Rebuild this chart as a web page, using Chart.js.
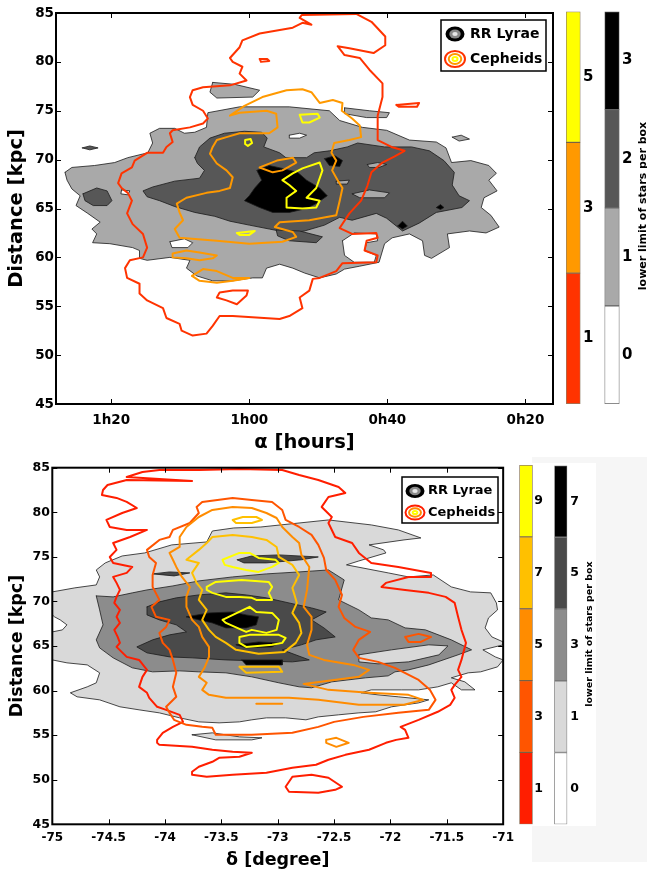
<!DOCTYPE html>
<html>
<head>
<meta charset="utf-8">
<title>RR Lyrae and Cepheids distance contours</title>
<script src="https://cdn.jsdelivr.net/npm/chart.js@4/dist/chart.umd.min.js"></script>
<style>
  html, body { margin:0; padding:0; background:#ffffff; }
  body { position:relative; width:647px; height:869px; overflow:hidden; }
  canvas { position:absolute; }
  .panel { position:absolute; }
</style>
</head>
<body>
<div class="panel" style="left:532px;top:457px;width:115px;height:405px;background:#f6f6f6;"></div>
<div class="panel" style="left:532px;top:463px;width:64px;height:363px;background:#ffffff;"></div>
<canvas id="cTop" width="560" height="458" style="left:0px;top:0px;"></canvas>
<canvas id="cTopCep" width="44" height="420" style="left:560px;top:0px;"></canvas>
<canvas id="cTopRR" width="47" height="420" style="left:600px;top:0px;"></canvas>
<canvas id="cBot" width="520" height="420" style="left:0px;top:455px;"></canvas>
<canvas id="cBotCep" width="40" height="420" style="left:512px;top:455px;"></canvas>
<canvas id="cBotRR" width="50" height="420" style="left:550px;top:455px;"></canvas>
<script>
// ---------------- axis ticks and labels ----------------
const raTicks = [20, 40, 60, 80];                 // minutes of right ascension
const raTickLabels = ['0h20', '0h40', '1h00', '1h20'];
const distTicks = [45, 50, 55, 60, 65, 70, 75, 80, 85];
const decTicks = [-75, -74.5, -74, -73.5, -73, -72.5, -72, -71.5, -71];
const legendLabels = ['RR Lyrae', 'Cepheids'];
const colorbarTitle = 'lower limit of stars per box';

// colour-bar level labels (bottom to top)
const topCepLevels = ['1', '3', '5'];
const topRRLevels = ['0', '1', '2', '3'];
const botCepLevels = ['1', '3', '5', '7', '9'];
const botRRLevels = ['0', '1', '3', '5', '7'];

// ---------------- TOP panel contours: [alpha (min), distance (kpc)] ----------------
const topRRLevel1 = [
 [[86.7,68.7],[85.7,69.2],[82.4,69.4],[79.5,69.7],[77.6,70.2],[74.7,70.7],[74.0,71.7],[74.4,72.7],[73.0,73.2],[70.8,73.2],[69.4,72.7],[67.9,72.8],[66.2,73.3],[66.0,74.8],[61.4,75.4],[54.2,75.4],[48.4,75.0],[46.9,74.0],[43.6,73.3],[40.1,73.0],[36.8,72.0],[32.9,71.8],[31.5,71.2],[30.7,69.7],[27.9,69.9],[25.3,69.4],[24.2,68.6],[25.3,67.9],[24.1,66.8],[26.0,66.1],[26.4,65.1],[25.0,64.3],[23.8,63.1],[25.7,62.5],[28.1,62.7],[31.3,62.4],[31.0,61.0],[33.6,59.9],[34.6,60.2],[34.9,61.7],[36.8,62.4],[39.3,62.0],[40.4,61.4],[41.2,59.5],[44.0,59.1],[46.2,58.8],[47.4,58.3],[49.8,57.9],[52.0,58.4],[53.7,58.9],[55.6,59.3],[57.5,58.9],[58.1,57.9],[59.5,57.9],[62.4,57.6],[65.3,57.6],[67.6,58.1],[69.1,58.9],[68.6,59.7],[71.5,60.0],[74.8,59.7],[75.9,59.9],[75.9,60.7],[76.9,61.0],[80.2,61.4],[82.7,61.5],[82.1,62.4],[82.8,62.9],[81.6,63.6],[83.4,64.5],[85.1,65.3],[84.5,66.3],[85.7,67.0],[86.4,67.9]],
 [[65.3,77.9],[62.1,77.7],[58.5,77.1],[59.5,76.4],[64.7,76.3],[65.7,76.9]],
 [[46.2,75.3],[42.6,75.0],[39.7,74.8],[40.1,74.3],[43.0,74.3],[46.2,74.7]],
 [[30.6,72.3],[29.3,72.5],[28.1,72.1],[29.6,71.9]]
];
const topRRLevel0 = [
 [[71.5,61.6],[69.4,61.9],[68.2,61.5],[68.9,61.0],[71.2,61.0]],
 [[54.2,72.5],[52.7,72.7],[51.7,72.5],[52.7,72.2],[54.2,72.2]],
 [[46.5,61.7],[44.8,62.5],[41.6,62.4],[41.4,61.7],[43.0,61.5],[43.3,60.7],[41.6,60.2],[41.9,59.5],[44.8,59.5],[46.2,60.2]],
 [[78.5,66.9],[77.3,66.8],[77.6,66.4],[78.6,66.5]]
];
const topRRLevel2 = [
 [[67.9,70.2],[67.2,71.3],[65.7,72.2],[63.6,72.7],[60.7,72.9],[58.2,72.8],[57.4,72.2],[57.9,71.3],[55.6,70.7],[54.7,70.2],[51.7,70.2],[50.6,70.7],[48.4,70.9],[45.8,71.3],[44.3,71.7],[40.4,71.3],[36.5,71.3],[33.9,70.9],[31.8,69.9],[30.3,68.7],[30.6,67.4],[29.6,66.3],[28.1,65.8],[29.2,65.1],[32.9,64.6],[35.4,63.5],[37.8,62.7],[40.1,64.0],[41.6,64.5],[45.1,63.8],[46.9,64.1],[49.1,63.3],[52.0,62.7],[54.2,62.5],[57.1,62.9],[60.0,63.3],[62.8,63.7],[65.0,64.2],[67.9,64.6],[70.8,65.2],[73.0,65.8],[74.8,66.2],[75.4,66.8],[74.0,67.2],[70.8,67.8],[67.2,68.1],[66.5,68.9],[67.5,69.6]],
 [[56.1,62.8],[52.7,62.7],[49.4,62.1],[50.3,61.5],[54.2,61.7],[55.9,62.2]],
 [[84.1,66.5],[82.1,67.1],[80.6,66.8],[79.9,65.8],[80.6,65.3],[82.6,65.3],[83.8,65.8]],
 [[84.2,71.2],[83.1,71.4],[81.9,71.2],[83.1,71.0]]
];
const topRRLevel1Islands = [
 [[45.1,66.5],[42.6,66.9],[39.7,66.6],[40.4,66.1],[44.0,66.1]],
 [[42.9,69.5],[41.4,69.7],[40.1,69.5],[41.2,69.2],[42.6,69.2]],
 [[47.4,67.8],[45.5,67.9],[45.8,67.5],[47.3,67.5]]
];
const topRRLevel3 = [
 [[58.9,68.9],[57.1,69.4],[55.2,69.1],[53.0,68.7],[51.7,67.9],[49.8,67.1],[48.7,66.3],[50.3,65.5],[51.7,65.0],[54.2,64.6],[56.6,64.6],[58.5,65.1],[60.7,65.8],[60.0,66.3],[59.2,67.1],[58.2,67.9]],
 [[49.1,70.1],[47.6,70.4],[46.5,69.9],[46.9,69.3],[48.4,69.4]],
 [[38.5,63.2],[37.8,63.7],[37.1,63.2],[37.8,62.9]],
 [[32.9,65.1],[32.3,65.4],[31.8,65.1],[32.3,64.9]]
];
const topCepLevel1 = [
 [[77.0,65.8],[77.6,66.6],[78.5,67.1],[79.0,67.6],[78.5,68.6],[77.0,69.2],[76.6,69.9],[74.8,70.7],[72.5,70.7],[72.0,71.3],[71.1,71.8],[71.5,72.7],[71.1,73.0],[68.6,73.3],[66.7,73.7],[66.0,74.2],[66.7,75.0],[68.2,75.6],[68.6,76.4],[68.2,77.1],[66.7,77.4],[62.8,77.6],[60.4,78.1],[61.4,78.8],[61.0,79.5],[62.4,80.0],[62.8,80.4],[61.4,81.5],[61.0,82.2],[58.5,82.9],[53.7,83.5],[52.3,84.0],[51.0,83.8],[52.7,84.5],[52.4,84.8],[44.5,84.9],[42.3,84.1],[40.3,82.6],[40.3,81.7],[42.0,80.9],[45.5,81.4],[47.2,81.6],[46.2,80.7],[44.0,80.4],[42.6,79.2],[40.7,77.8],[40.7,76.4],[41.4,74.5],[41.4,72.0],[39.4,71.3],[37.5,70.9],[39.0,70.3],[40.7,69.7],[42.3,68.7],[42.9,67.3],[43.8,65.8],[45.5,64.5],[46.9,63.0],[45.1,62.4],[41.6,62.5],[41.4,62.0],[43.0,61.7],[43.3,60.7],[41.4,60.2],[41.6,59.5],[46.5,59.4],[47.4,58.6],[49.8,57.9],[50.8,57.8],[51.3,56.6],[52.7,55.9],[52.3,54.8],[54.2,54.0],[55.6,53.7],[62.4,54.0],[64.3,54.0],[65.3,53.0],[66.2,52.2],[68.2,52.0],[69.8,52.5],[70.1,53.2],[72.0,53.8],[72.5,54.8],[74.8,55.6],[75.9,56.3],[75.9,57.3],[77.7,57.9],[78.0,58.9],[77.3,59.7],[75.4,60.0],[74.8,61.0],[75.4,62.4],[76.9,63.4],[77.7,64.5]],
 [[64.7,55.9],[64.3,56.4],[62.4,56.6],[60.2,56.6],[60.4,56.1],[61.8,55.2],[63.3,55.6]],
 [[38.7,75.6],[35.4,75.8],[35.7,75.4],[38.3,75.4]],
 [[58.5,80.3],[57.4,80.3],[57.1,80.1],[58.3,80.0]]
];
const topCepLevel3 = [
 [[58.1,76.4],[54.6,77.1],[52.3,77.2],[51.0,76.9],[49.8,75.8],[47.9,76.1],[46.5,75.8],[46.6,75.0],[45.1,74.2],[44.0,73.5],[43.8,72.3],[45.5,72.0],[47.7,71.7],[48.1,70.7],[47.4,69.9],[48.0,68.9],[47.2,67.9],[46.5,67.1],[46.9,65.8],[47.4,64.3],[51.3,63.8],[55.6,63.6],[56.3,63.1],[53.7,62.6],[53.2,62.1],[55.2,61.6],[60.0,61.4],[64.7,61.7],[70.1,62.0],[70.8,62.9],[69.6,63.8],[70.1,64.6],[70.5,65.5],[69.1,66.1],[66.2,66.6],[64.3,66.8],[62.8,67.1],[62.4,68.2],[63.3,68.9],[64.7,69.6],[65.7,70.6],[65.3,71.3],[64.7,72.0],[63.3,72.3],[61.4,72.7],[57.1,72.7],[55.9,73.3],[56.1,74.7],[57.5,75.0],[61.4,74.8],[62.8,74.5],[60.7,75.5]],
 [[58.5,69.2],[56.0,69.9],[53.7,70.2],[53.2,69.7],[55.2,68.9],[56.6,68.7]],
 [[71.1,60.4],[69.1,60.7],[67.2,60.5],[64.7,60.2],[65.3,59.9],[67.2,59.7],[69.1,59.9],[71.1,60.0]],
 [[68.3,58.1],[66.7,58.8],[64.7,58.6],[62.4,57.9],[60.0,57.9],[62.4,57.6],[64.7,57.4],[67.2,57.6]]
];
const topCepLevel5 = [
 [[52.7,74.6],[50.1,74.7],[49.8,74.3],[51.3,73.8],[52.3,73.8]],
 [[60.6,72.0],[59.8,72.1],[59.6,71.7],[60.2,71.4],[60.6,71.6]],
 [[55.2,67.9],[53.7,68.6],[52.3,69.1],[49.8,69.7],[49.4,68.9],[50.3,67.1],[51.7,66.1],[49.8,65.8],[50.3,65.1],[52.3,65.0],[54.6,65.1],[54.6,66.1],[53.2,66.8],[54.2,67.4]],
 [[61.8,62.5],[59.2,62.7],[60.0,62.3],[61.4,62.3]]
];

// ---------------- BOTTOM panel contours: [delta (deg), distance (kpc)] ----------------
const botRRLevel1 = [
 [[-75.0,71.07],[-74.95,71.18],[-74.80,71.52],[-74.61,71.85],[-74.58,72.75],[-74.61,73.53],[-74.53,74.32],[-74.38,75.10],[-74.18,75.44],[-73.94,76.34],[-73.63,76.67],[-73.58,77.90],[-73.39,78.24],[-73.15,78.35],[-72.55,79.14],[-72.17,78.58],[-71.93,78.02],[-71.73,77.12],[-71.88,76.90],[-72.19,76.34],[-72.06,75.78],[-72.04,75.44],[-72.28,74.54],[-72.39,74.10],[-72.02,73.20],[-71.84,72.75],[-71.62,72.97],[-71.46,71.63],[-71.29,71.07],[-71.11,70.96],[-71.06,69.83],[-71.05,69.05],[-71.13,68.15],[-71.16,67.03],[-71.10,66.02],[-71.0,65.46],[-71.0,65.13],[-71.18,64.57],[-71.07,63.78],[-71.0,63.44],[-71.05,62.66],[-71.20,62.10],[-71.31,61.99],[-71.46,61.43],[-71.34,60.98],[-71.25,60.08],[-71.37,60.08],[-71.46,60.87],[-71.58,60.42],[-71.75,60.08],[-71.90,60.08],[-72.17,60.08],[-72.26,59.75],[-72.11,59.52],[-71.93,59.30],[-71.66,58.96],[-71.75,58.62],[-71.99,58.18],[-72.13,57.62],[-72.28,57.50],[-72.46,57.28],[-72.64,57.05],[-72.75,56.72],[-72.93,56.94],[-73.10,56.94],[-73.23,56.72],[-73.34,56.49],[-73.52,56.38],[-73.70,56.49],[-73.87,56.94],[-74.05,57.50],[-74.23,57.84],[-74.40,58.18],[-74.58,58.96],[-74.78,59.30],[-74.84,59.75],[-74.69,60.42],[-74.61,60.87],[-74.58,61.99],[-74.69,62.88],[-74.87,63.11],[-75.0,63.44],[-75.0,66.58],[-74.91,66.81],[-74.87,67.37],[-74.93,67.93],[-74.98,68.27],[-75.0,68.49]],
 [[-73.76,55.04],[-73.58,55.26],[-73.34,54.81],[-73.14,54.70],[-73.23,54.47],[-73.55,54.47]]
];
const botRRLevel3 = [
 [[-74.61,70.62],[-74.46,70.51],[-74.29,70.96],[-74.16,71.29],[-73.93,71.74],[-73.70,72.30],[-73.40,72.75],[-73.10,73.09],[-72.81,73.31],[-72.55,73.53],[-72.41,72.41],[-72.46,70.17],[-72.28,69.05],[-72.17,68.15],[-72.02,67.93],[-71.87,67.03],[-71.69,66.81],[-71.46,65.69],[-71.28,64.57],[-71.40,64.01],[-71.66,62.88],[-71.84,62.32],[-71.96,62.10],[-72.02,61.65],[-72.22,61.43],[-72.52,60.98],[-72.70,60.31],[-72.81,60.42],[-72.99,60.87],[-73.23,61.54],[-73.46,61.99],[-73.70,62.10],[-73.87,62.21],[-74.11,62.10],[-74.29,62.55],[-74.46,63.67],[-74.58,64.79],[-74.61,65.69],[-74.55,67.37],[-74.58,69.05]]
];
const botRRLevel1Islands = [
 [[-72.28,64.01],[-71.99,64.57],[-71.66,65.13],[-71.49,65.01],[-71.57,64.01],[-71.84,63.22],[-72.11,63.00],[-72.28,63.22]]
];
const botRRLevel5 = [
 [[-74.16,69.39],[-74.05,69.95],[-73.90,70.40],[-73.70,70.73],[-73.46,70.96],[-73.28,70.73],[-73.10,70.40],[-72.90,69.83],[-72.70,69.27],[-72.57,68.82],[-72.70,67.93],[-72.59,67.03],[-72.49,66.02],[-72.66,65.69],[-72.79,65.13],[-72.96,64.57],[-72.72,63.44],[-72.87,63.22],[-73.17,63.33],[-73.46,63.44],[-73.76,63.67],[-73.96,63.78],[-74.16,64.23],[-74.25,64.90],[-74.11,65.69],[-73.96,66.25],[-73.81,66.58],[-73.90,67.37],[-74.05,67.93],[-74.16,68.49]],
 [[-73.36,74.67],[-73.23,75.10],[-72.99,75.22],[-72.64,74.99],[-72.79,74.67],[-73.10,74.32],[-73.30,74.32]],
 [[-74.11,73.09],[-73.96,73.31],[-73.78,73.20],[-73.92,72.86]]
];
const botRRLevel7 = [
 [[-73.81,68.27],[-73.61,68.71],[-73.40,68.82],[-73.28,68.49],[-73.17,68.27],[-73.19,67.37],[-73.28,67.03],[-73.46,67.03],[-73.58,67.59],[-73.70,67.93]],
 [[-73.37,65.13],[-73.17,65.46],[-72.99,65.35],[-73.05,64.90],[-73.28,64.79]],
 [[-73.32,63.44],[-72.96,63.44],[-72.96,62.88],[-73.28,62.88]]
];
const botCepLevel1 = [
 [[-74.55,82.50],[-74.51,83.06],[-74.34,83.62],[-73.76,83.51],[-74.34,83.96],[-74.20,84.52],[-74.05,84.74],[-73.70,84.74],[-73.34,84.86],[-72.96,84.74],[-72.81,84.18],[-72.64,83.62],[-72.46,82.84],[-72.40,82.17],[-72.55,81.72],[-72.61,80.60],[-72.52,79.47],[-72.55,78.80],[-72.49,77.23],[-72.34,76.56],[-72.28,75.44],[-72.17,74.32],[-71.93,73.87],[-71.64,73.20],[-71.64,72.75],[-71.84,72.75],[-72.04,72.08],[-72.08,71.63],[-71.87,71.29],[-71.66,70.96],[-71.51,70.51],[-71.43,69.83],[-71.40,68.27],[-71.37,66.81],[-71.33,65.35],[-71.37,63.44],[-71.40,62.32],[-71.37,61.54],[-71.43,60.64],[-71.46,60.08],[-71.43,59.19],[-71.47,58.40],[-71.58,57.62],[-71.75,56.72],[-71.91,55.93],[-71.87,55.60],[-71.84,54.70],[-71.95,54.47],[-72.04,54.14],[-72.19,53.36],[-72.40,52.79],[-72.55,52.24],[-72.66,51.68],[-72.87,51.34],[-73.10,50.78],[-73.40,50.55],[-73.63,50.33],[-73.76,50.55],[-73.76,50.89],[-73.70,51.45],[-73.58,52.01],[-73.52,52.46],[-73.34,52.57],[-73.23,53.02],[-73.40,53.13],[-73.58,53.36],[-73.76,53.69],[-74.05,53.91],[-74.07,54.14],[-74.07,54.47],[-74.02,55.26],[-73.93,55.93],[-73.84,56.49],[-73.87,57.28],[-73.99,57.84],[-74.07,58.18],[-74.14,59.19],[-74.16,59.75],[-74.23,60.42],[-74.20,61.54],[-74.16,62.32],[-74.23,63.44],[-74.34,63.78],[-74.43,64.90],[-74.40,65.35],[-74.42,66.02],[-74.45,66.81],[-74.40,67.59],[-74.43,68.27],[-74.40,69.05],[-74.45,69.83],[-74.43,70.51],[-74.40,71.29],[-74.43,72.08],[-74.46,72.75],[-74.34,73.20],[-74.29,73.87],[-74.46,74.32],[-74.49,74.99],[-74.43,75.78],[-74.46,76.56],[-74.31,77.23],[-74.16,78.02],[-74.34,78.02],[-74.49,78.35],[-74.52,79.14],[-74.38,79.92],[-74.25,80.48],[-74.34,81.16],[-74.43,81.61],[-74.56,81.94]],
 [[-72.93,49.21],[-72.87,50.33],[-72.70,50.55],[-72.55,50.22],[-72.43,49.21],[-72.49,48.87],[-72.64,48.54],[-72.90,48.65]]
];
const botCepLevel3 = [
 [[-74.14,74.99],[-74.16,75.78],[-74.05,76.90],[-73.96,77.23],[-73.93,78.02],[-73.78,78.80],[-73.70,79.92],[-73.72,80.60],[-73.67,81.16],[-73.40,81.61],[-73.23,81.38],[-73.05,81.16],[-72.96,80.26],[-72.93,79.14],[-72.81,78.35],[-72.70,77.46],[-72.64,76.34],[-72.59,74.88],[-72.57,73.53],[-72.49,72.41],[-72.43,70.73],[-72.46,69.39],[-72.41,68.15],[-72.31,67.14],[-72.18,66.58],[-72.28,65.69],[-72.33,64.57],[-72.28,63.67],[-72.11,63.22],[-71.96,62.55],[-71.75,61.20],[-71.65,60.08],[-71.60,58.96],[-71.66,57.84],[-71.93,57.50],[-72.24,57.05],[-72.50,56.49],[-72.64,55.93],[-72.87,55.26],[-73.23,55.04],[-73.55,55.04],[-73.58,55.82],[-73.67,55.93],[-73.81,56.16],[-73.92,56.72],[-73.96,57.50],[-73.99,58.18],[-73.90,59.30],[-73.93,60.42],[-73.90,61.99],[-73.93,63.44],[-73.96,64.57],[-74.02,65.35],[-74.05,66.47],[-73.99,67.14],[-73.96,67.93],[-74.08,68.27],[-74.12,69.39],[-74.05,70.17],[-74.11,71.63],[-74.11,72.97],[-74.08,74.32]],
 [[-71.87,66.02],[-71.75,66.36],[-71.64,66.02],[-71.73,65.46],[-71.84,65.46]]
];
const botCepLevel5 = [
 [[-73.93,74.67],[-73.96,75.44],[-73.87,76.11],[-73.87,77.23],[-73.81,78.35],[-73.70,79.47],[-73.58,80.26],[-73.40,80.60],[-73.23,80.48],[-73.10,79.92],[-73.01,79.36],[-72.96,78.35],[-72.87,77.23],[-72.81,76.56],[-72.79,75.22],[-72.72,73.87],[-72.74,71.29],[-72.77,69.39],[-72.70,68.27],[-72.70,66.81],[-72.74,65.13],[-72.72,64.01],[-72.59,63.44],[-72.33,62.88],[-72.19,62.32],[-72.28,61.54],[-72.55,61.09],[-72.77,60.75],[-72.55,60.08],[-72.19,59.75],[-71.84,59.52],[-71.71,58.96],[-71.88,58.40],[-72.28,58.40],[-72.64,58.96],[-72.90,59.19],[-73.21,59.19],[-73.46,59.19],[-73.61,59.52],[-73.67,60.08],[-73.63,60.87],[-73.70,61.54],[-73.65,62.55],[-73.61,63.78],[-73.61,64.90],[-73.67,66.02],[-73.70,67.14],[-73.76,67.93],[-73.81,69.39],[-73.81,70.51],[-73.78,71.63],[-73.85,72.75],[-73.90,73.87]],
 [[-72.57,54.47],[-72.48,54.70],[-72.37,54.14],[-72.48,53.69],[-72.57,54.14]],
 [[-73.19,58.51],[-72.96,58.51]]
];
const botCepLevel7 = [
 [[-73.81,74.67],[-73.70,75.78],[-73.63,76.56],[-73.58,77.23],[-73.40,77.46],[-73.23,77.23],[-73.10,76.90],[-73.01,76.11],[-72.99,74.99],[-72.87,74.10],[-72.81,72.97],[-72.87,71.52],[-72.83,69.83],[-72.87,68.71],[-72.81,67.59],[-72.79,66.47],[-72.84,65.35],[-72.94,64.34],[-73.17,64.12],[-73.37,64.57],[-73.46,65.35],[-73.55,66.02],[-73.61,66.81],[-73.67,67.93],[-73.63,69.05],[-73.70,70.17],[-73.67,71.29],[-73.72,72.08],[-73.76,73.20],[-73.70,74.32]],
 [[-73.40,79.14],[-73.31,79.47],[-73.19,79.47],[-73.14,79.14],[-73.23,78.80],[-73.37,78.80]],
 [[-73.34,62.66],[-72.99,62.66],[-72.96,62.10],[-73.28,61.99]]
];
const botCepLevel9 = [
 [[-73.49,74.67],[-73.34,75.44],[-73.25,75.44],[-73.17,74.88],[-73.02,74.67],[-72.99,74.32],[-73.05,73.87],[-73.17,73.31],[-73.28,73.53],[-73.40,73.87],[-73.47,74.10]],
 [[-73.63,71.63],[-73.55,72.19],[-73.32,72.41],[-73.08,72.19],[-73.05,71.63],[-73.08,70.96],[-73.05,70.17],[-73.19,70.17],[-73.23,70.40],[-73.34,70.51],[-73.46,70.51],[-73.58,70.96],[-73.63,71.29]],
 [[-73.49,67.93],[-73.25,69.39],[-73.19,68.82],[-73.05,68.71],[-72.99,67.93],[-73.01,66.81],[-73.10,66.47],[-73.23,66.81],[-73.28,66.58],[-73.46,67.59]],
 [[-73.34,66.02],[-73.25,66.25],[-72.99,66.25],[-72.93,65.91],[-72.96,65.35],[-73.05,65.13],[-73.28,64.90],[-73.34,65.35]]
];

// ---------------- styles ----------------
const FONT = '"DejaVu Sans", "Liberation Sans", sans-serif';
const topCepColors = ['#FF3300', '#FF9900', '#FFFF00'];
const topRRColors = ['#FFFFFF', '#A9A9A9', '#575757', '#000000'];
const botCepColors = ['#FF1E00', '#FF5500', '#FF8C00', '#FFC000', '#FFFF00'];
const botRRColors = ['#FFFFFF', '#D9D9D9', '#8C8C8C', '#4A4A4A', '#000000'];
const EDGE = '#1a1a1a';

function fnt(size, weight) { return { family: FONT, size: size, weight: weight || 'bold', lineHeight: 1.2 }; }
function closedPoints(poly) {
  const pts = poly.map(p => ({ x: p[0], y: p[1] }));
  pts.push({ x: poly[0][0], y: poly[0][1] });
  return pts;
}
function buildSets(layers) {
  const sets = [];
  layers.forEach(L => L.polys.forEach(poly => sets.push({
    data: closedPoints(poly),
    fill: L.fill ? 'shape' : false,
    backgroundColor: L.fill || 'rgba(0,0,0,0)',
    borderColor: L.edge, borderWidth: L.width,
    pointRadius: 0, pointHoverRadius: 0, pointHitRadius: 0,
    tension: 0, borderJoinStyle: 'round', borderCapStyle: 'round'
  })));
  sets.forEach((s, i) => { s.order = -i; });
  return sets;
}

const framePlugin = {
  id: 'frame',
  afterDatasetsDraw(chart) {
    const { ctx, chartArea: a } = chart;
    const xs = chart.scales.x, ys = chart.scales.y;
    ctx.save();
    ctx.strokeStyle = '#000'; ctx.lineWidth = 1;
    ctx.beginPath();
    xs.ticks.forEach(t => {
      const p = Math.round(xs.getPixelForValue(t.value)) + 0.5;
      ctx.moveTo(p, a.bottom); ctx.lineTo(p, a.bottom - 5);
      ctx.moveTo(p, a.top); ctx.lineTo(p, a.top + 5);
    });
    ys.ticks.forEach(t => {
      const p = Math.round(ys.getPixelForValue(t.value)) + 0.5;
      ctx.moveTo(a.left, p); ctx.lineTo(a.left + 5, p);
      ctx.moveTo(a.right, p); ctx.lineTo(a.right - 5, p);
    });
    ctx.stroke();
    ctx.lineWidth = 2;
    ctx.strokeRect(a.left, a.top, a.right - a.left, a.bottom - a.top);
    ctx.restore();
  }
};

function legendPlugin(cfg) {
  return {
    id: 'rrcepLegend',
    afterDraw(chart) {
      const ctx = chart.ctx;
      const e = (cx, cy, rx, ry) => { ctx.beginPath(); ctx.ellipse(cx, cy, rx, ry, 0, 0, Math.PI * 2); };
      ctx.save();
      ctx.fillStyle = '#fff'; ctx.fillRect(cfg.x, cfg.y, cfg.w, cfg.h);
      ctx.lineWidth = 1.5; ctx.strokeStyle = '#000'; ctx.strokeRect(cfg.x, cfg.y, cfg.w, cfg.h);
      e(cfg.ix, cfg.y1, cfg.rx, cfg.ry); ctx.fillStyle = '#000'; ctx.fill();
      e(cfg.ix, cfg.y1, cfg.rx * 0.6, cfg.ry * 0.6); ctx.fillStyle = '#8a8a8a'; ctx.fill();
      e(cfg.ix, cfg.y1, cfg.rx * 0.28, cfg.ry * 0.28); ctx.fillStyle = '#e8e8e8'; ctx.fill();
      cfg.rings.forEach((c, i) => {
        const k = 1 - i * 0.34;
        e(cfg.ix, cfg.y2, cfg.rx2 * k - 1, cfg.ry2 * k - 1);
        ctx.strokeStyle = c; ctx.lineWidth = 2; ctx.stroke();
      });
      ctx.fillStyle = '#000'; ctx.font = 'bold ' + cfg.fs + 'px ' + FONT;
      ctx.textBaseline = 'middle'; ctx.textAlign = 'left';
      ctx.fillText(legendLabels[0], cfg.tx, cfg.y1);
      ctx.fillText(legendLabels[1], cfg.tx, cfg.y2);
      ctx.restore();
    }
  };
}

function mainChart(id, datasets, xcfg, ycfg, layoutPad, plugins) {
  return new Chart(document.getElementById(id), {
    type: 'line',
    data: { datasets: datasets },
    options: {
      responsive: false, animation: false, devicePixelRatio: 1,
      layout: { padding: layoutPad },
      plugins: { legend: { display: false }, tooltip: { enabled: false } },
      events: [],
      scales: {
        x: {
          type: 'linear', min: xcfg.min, max: xcfg.max, reverse: !!xcfg.reverse,
          afterBuildTicks: ax => { ax.ticks = xcfg.ticks.map(v => ({ value: v })); },
          afterFit: s => { s.height = xcfg.h; },
          grid: { display: false, drawTicks: false }, border: { display: false },
          ticks: { autoSkip: false, maxRotation: 0, minRotation: 0, padding: xcfg.pad, color: '#000', font: fnt(xcfg.fs),
                   callback: (v, i) => xcfg.labels[i] },
          title: { display: true, text: xcfg.title, color: '#000', font: fnt(xcfg.tfs), padding: { top: 0, bottom: xcfg.tpad } }
        },
        y: {
          type: 'linear', min: 45, max: 85,
          afterBuildTicks: ax => { ax.ticks = distTicks.map(v => ({ value: v })); },
          afterFit: s => { s.width = ycfg.w; },
          grid: { display: false, drawTicks: false }, border: { display: false },
          ticks: { padding: ycfg.pad, color: '#000', font: fnt(ycfg.fs), callback: v => String(v) },
          title: { display: true, text: 'Distance [kpc]', color: '#000', font: fnt(ycfg.tfs), padding: { top: ycfg.tpad, bottom: 0 } }
        }
      }
    },
    plugins: plugins
  });
}

function colorBar(id, colors, labels, o) {
  const vlabel = {
    id: 'vlabel',
    afterDraw(chart) {
      if (!o.title) return;
      const ctx = chart.ctx;
      ctx.save();
      ctx.translate(o.title.x, o.title.y);
      ctx.rotate(-Math.PI / 2);
      ctx.font = o.title.weight + ' ' + o.title.size + 'px ' + FONT;
      ctx.fillStyle = '#000'; ctx.textAlign = 'center'; ctx.textBaseline = 'middle';
      ctx.fillText(colorbarTitle, 0, 0);
      ctx.restore();
    }
  };
  return new Chart(document.getElementById(id), {
    type: 'bar',
    data: {
      labels: [''],
      datasets: colors.map(c => ({ data: [1], backgroundColor: c, borderColor: o.edge, borderWidth: 1,
        barPercentage: 1, categoryPercentage: 1, borderSkipped: false }))
    },
    options: {
      responsive: false, animation: false, devicePixelRatio: 1, events: [],
      layout: { padding: { left: o.left, top: o.top, bottom: o.bottom, right: 0 } },
      plugins: { legend: { display: false }, tooltip: { enabled: false } },
      scales: {
        x: { stacked: true, display: false },
        y: {
          stacked: true, position: 'right', min: 0, max: colors.length,
          afterBuildTicks: ax => { ax.ticks = labels.map((l, i) => ({ value: i + 0.5 })); },
          afterFit: s => { s.width = o.axisW; },
          grid: { display: false, drawTicks: false }, border: { display: false },
          ticks: { padding: o.pad, color: '#000', font: fnt(o.fs), callback: (v, i) => labels[i] }
        }
      }
    },
    plugins: [vlabel]
  });
}

// ---------------- TOP panel ----------------
const topSets = buildSets([
  { polys: topRRLevel1, fill: topRRColors[1], edge: EDGE, width: 0.8 },
  { polys: topRRLevel0, fill: topRRColors[0], edge: EDGE, width: 0.8 },
  { polys: topRRLevel2, fill: topRRColors[2], edge: EDGE, width: 0.8 },
  { polys: topRRLevel1Islands, fill: topRRColors[1], edge: EDGE, width: 0.8 },
  { polys: topRRLevel3, fill: topRRColors[3], edge: EDGE, width: 0.8 },
  { polys: topCepLevel1, fill: null, edge: topCepColors[0], width: 2 },
  { polys: topCepLevel3, fill: null, edge: topCepColors[1], width: 2 },
  { polys: topCepLevel5, fill: null, edge: topCepColors[2], width: 2 }
]);
mainChart('cTop', topSets,
  { min: 16, max: 88, reverse: true, ticks: raTicks, labels: raTickLabels, h: 54, pad: 7.9, fs: 13.5, tfs: 19.5, tpad: 3.3, title: '\u03B1 [hours]' },
  { w: 56, pad: 2, fs: 13.5, tfs: 19.5, tpad: 5.3 },
  { top: 13, right: 7, left: 0, bottom: 0 },
  [framePlugin, legendPlugin({ x: 441, y: 20, w: 105, h: 51, ix: 455, y1: 34, y2: 59, rx: 9.5, ry: 7.5, rx2: 11, ry2: 9,
    rings: topCepColors, tx: 470, fs: 14 })]
);
colorBar('cTopCep', topCepColors, topCepLevels, { left: 6, top: 9, bottom: 16, axisW: 23.5, pad: 2.5, fs: 15, edge: 'rgba(70,40,0,0.6)' });
colorBar('cTopRR', topRRColors, topRRLevels, { left: 4.5, top: 9, bottom: 16, axisW: 27.5, pad: 2.5, fs: 15, edge: '#666',
  title: { x: 43, y: 206, size: 11, weight: 'bold' } });

// ---------------- BOTTOM panel ----------------
const botSets = buildSets([
  { polys: botRRLevel1, fill: botRRColors[1], edge: EDGE, width: 0.8 },
  { polys: botRRLevel3, fill: botRRColors[2], edge: EDGE, width: 0.8 },
  { polys: botRRLevel1Islands, fill: botRRColors[1], edge: EDGE, width: 0.8 },
  { polys: botRRLevel5, fill: botRRColors[3], edge: EDGE, width: 0.8 },
  { polys: botRRLevel7, fill: botRRColors[4], edge: EDGE, width: 0.8 },
  { polys: botCepLevel1, fill: null, edge: botCepColors[0], width: 2 },
  { polys: botCepLevel3, fill: null, edge: botCepColors[1], width: 2 },
  { polys: botCepLevel5, fill: null, edge: botCepColors[2], width: 2 },
  { polys: botCepLevel7, fill: null, edge: botCepColors[3], width: 2 },
  { polys: botCepLevel9, fill: null, edge: botCepColors[4], width: 2 }
]);
mainChart('cBot', botSets,
  { min: -75, max: -71, reverse: false, ticks: decTicks, labels: decTicks.map(String), h: 50.7, pad: 6, fs: 12, tfs: 17.5, tpad: 4.5, title: '\u03B4 [degree]' },
  { w: 52.3, pad: 2.3, fs: 12.5, tfs: 17.5, tpad: 6.5 },
  { top: 12.7, right: 15, left: 0, bottom: 0 },
  [framePlugin, legendPlugin({ x: 402, y: 22, w: 96, h: 46, ix: 415, y1: 36, y2: 57.5, rx: 9.5, ry: 7, rx2: 10.5, ry2: 8,
    rings: [botCepColors[0], botCepColors[2], botCepColors[4]], tx: 428, fs: 13 })]
);
colorBar('cBotCep', botCepColors, botCepLevels, { left: 7.3, top: 10, bottom: 50.7, axisW: 19.3, pad: 1.5, fs: 12.5, edge: 'rgba(70,40,0,0.6)' });
colorBar('cBotRR', botRRColors, botRRLevels, { left: 4.3, top: 10, bottom: 50.7, axisW: 32.7, pad: 3, fs: 12.5, edge: '#777',
  title: { x: 40, y: 179, size: 9.5, weight: 'bold' } });
</script>
</body>
</html>
